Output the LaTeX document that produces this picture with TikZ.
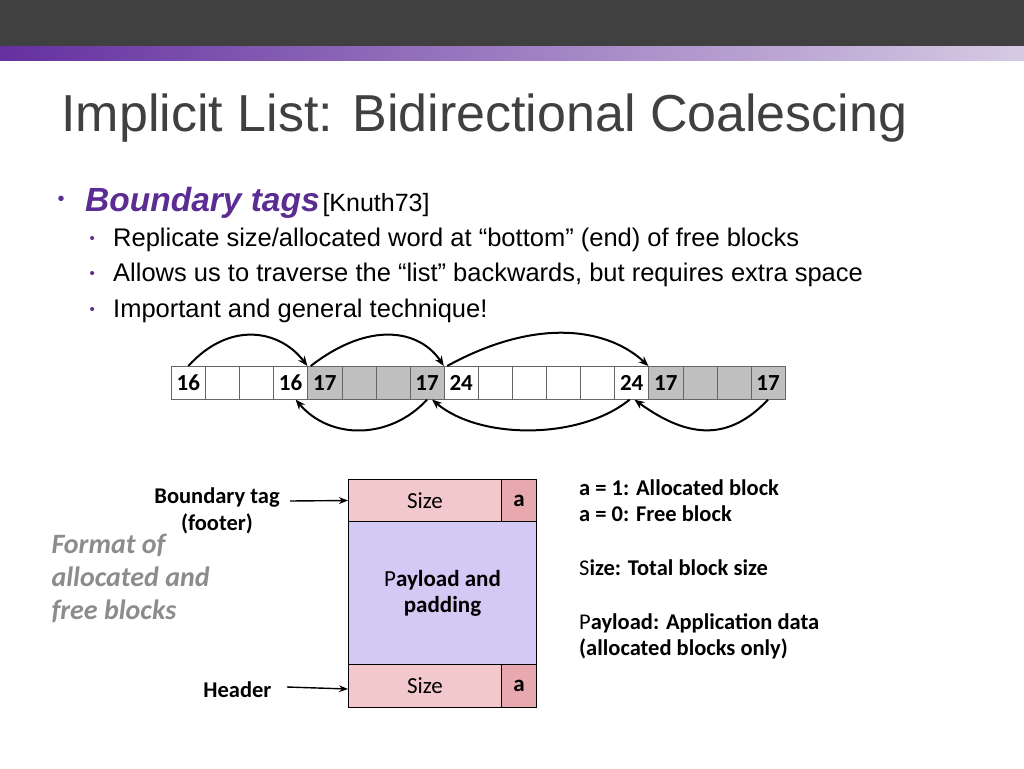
\documentclass[tikz,border=0pt]{standalone}
\usepackage{fontspec}
\setmainfont{Liberation Sans}
\newfontfamily\carl{Carlito}
\definecolor{titlec}{HTML}{404040}
\definecolor{purp}{HTML}{5B2C91}
\definecolor{pinkc}{HTML}{F2C8CC}
\definecolor{pinkd}{HTML}{E8A8B0}
\definecolor{lav}{HTML}{D4C8F4}
\definecolor{cellg}{HTML}{C0C0C0}
\usetikzlibrary{arrows.meta}
\begin{document}
\begin{tikzpicture}[x=1pt,y=-1pt,
  cell/.style={draw=black!60,line width=0.6pt,minimum width=34.1pt,minimum height=33pt,inner sep=0pt,anchor=north west,font=\carl\bfseries\fontsize{23}{24}\selectfont},
  arr/.style={-{Stealth[length=10pt,width=8pt]},line width=2pt},
  blk/.style={draw=black,line width=1pt,inner sep=0pt,anchor=north west,font=\carl\fontsize{23}{26}\selectfont,align=center},
  lbl/.style={font=\carl\bfseries\fontsize{22.5}{27}\selectfont,align=center}]
\useasboundingbox (0,0) rectangle (1024,768);
\fill[titlec] (0,0) rectangle (1024,47);
\shade[left color=purp!110!black,right color=purp!25] (0,47) rectangle (1024,60);
\node[anchor=west,text=titlec,font=\fontsize{52}{58}\selectfont] (title) at (58,118) {Implicit List: Bidirectional Coalescing};
\node[anchor=west,text=purp,font=\fontsize{20}{22}\selectfont] (b0) at (54,201) {•};
\node[anchor=base west,inner sep=0pt] (b1) at (85,211) {\textcolor{purp}{\fontsize{33.5}{36}\selectfont\bfseries\itshape Boundary tags} {\fontsize{25}{28}\selectfont [Knuth73]}};
\foreach \y/\t [count=\i] in {240/{Replicate size/allocated word at “bottom” (end) of free blocks},275/{Allows us to traverse the “list” backwards, but requires extra space},311/{Important and general technique!}}{
  \node[anchor=west,text=purp,font=\fontsize{15}{16}\selectfont] (sb\i) at (86,\y) {•};
  \node[anchor=west,inner sep=0pt,font=\fontsize{25.5}{28}\selectfont] (s\i) at (113,\y) {\t};
}
\foreach \t/\f [count=\i from 0] in {16/white,/white,/white,16/white,17/cellg,/cellg,/cellg,17/cellg,24/white,/white,/white,/white,/white,24/white,17/cellg,/cellg,/cellg,17/cellg}{
  \node[cell,fill=\f] (c\i) at ({171+\i*34.1},366) {\t};
}
\draw[arr] (c0.north) .. controls (230,320) and (280,330) .. (c4.north west);
\draw[arr] ([xshift=-14pt]c4.north) .. controls (370,320) and (420,330) .. (c8.north west);
\draw[arr] ([xshift=-14pt]c8.north) .. controls (540,315) and (610,330) .. (c14.north west);
\draw[arr] (c7.south) .. controls (390,440) and (330,440) .. ([xshift=5pt]c3.south);
\draw[arr] ([xshift=-2pt]c13.south) .. controls (580,440) and (480,440) .. ([xshift=5pt]c7.south);
\draw[arr] (c17.south) .. controls (730,440) and (690,440) .. ([xshift=-14pt]c14.south west);
% block
\node[blk,fill=pinkc,minimum width=153pt,minimum height=42pt] (fs) at (348,479) {Size};
\node[blk,fill=pinkd,minimum width=35pt,minimum height=42pt] (fa) at (501,479) {\bfseries a};
\node[blk,fill=lav,minimum width=188pt,minimum height=143pt] (pl) at (348,521) {P\textbf{ayload and}\\\textbf{padding}};
\node[blk,fill=pinkc,minimum width=153pt,minimum height=43pt] (hs) at (348,664) {Size};
\node[blk,fill=pinkd,minimum width=35pt,minimum height=43pt] (ha) at (501,664) {\bfseries a};
\node[lbl] (bt) at (217,511) {Boundary tag\\(footer)};
\node[lbl,anchor=east] (hd) at (275,690) {Header};
\draw[-{Stealth[length=9pt]},line width=1.4pt] (290,501) -- (fs.west);
\draw[-{Stealth[length=9pt]},line width=1.4pt] (hd.east) ++(12,-3) -- ([yshift=-3pt]hs.west);
\node[anchor=north west,align=left,text=black!45,font=\carl\bfseries\itshape\fontsize{28}{33}\selectfont] (fmt) at (48,531) {Format of\\allocated and\\free blocks};
\node[anchor=north west,align=left,inner sep=0pt,font=\carl\fontsize{22.5}{26}\selectfont] (leg) at (579,480) {\textbf{a = 1: Allocated block}\\\textbf{a = 0: Free block}\\[28pt]S\textbf{ize: Total block size}\\[28pt]P\textbf{ayload: Application data}\\\textbf{(allocated blocks only)}};
\end{tikzpicture}
\end{document}
